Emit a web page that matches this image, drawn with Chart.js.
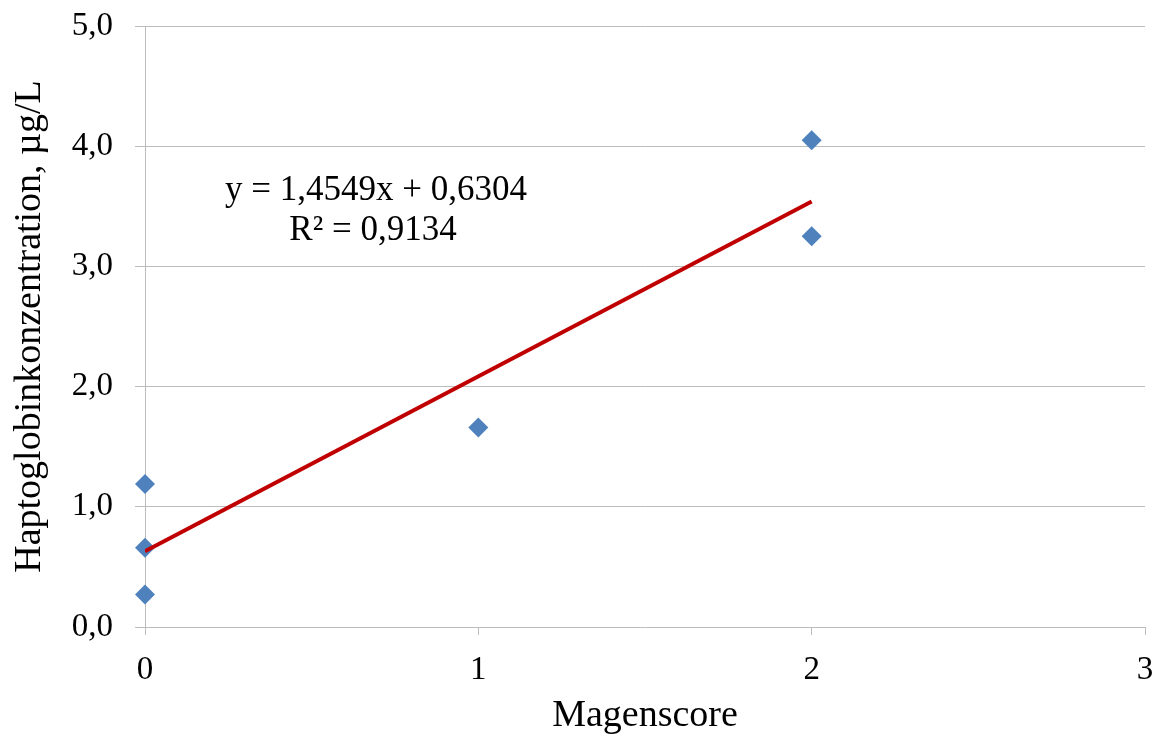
<!DOCTYPE html>
<html>
<head>
<meta charset="utf-8">
<script src="https://cdn.jsdelivr.net/npm/chart.js@4/dist/chart.umd.min.js"></script>
<style>
  html, body { margin: 0; padding: 0; background: #ffffff; }
  #wrap { width: 1158px; height: 736px; position: relative; }
</style>
</head>
<body>
<div id="wrap"><canvas id="c" width="1158" height="736"></canvas></div>
<script>
// Measured points: gastric score vs. haptoglobin concentration
const magenscore = [0, 0, 0, 1, 2, 2];
const haptoglobin = [1.19, 0.66, 0.27, 1.66, 4.05, 3.25];

// Linear regression line as stated in the equation label
const slope = 1.4549;
const intercept = 0.6304;
const rSquared = 0.9134;
const trendX = [0, 2];

const xTicks = [0, 1, 2, 3];
const yTicks = [0, 1, 2, 3, 4, 5];

const fmt = (v, d) => v.toFixed(d).replace('.', ',');

const scatterPoints = magenscore.map((x, i) => ({ x: x, y: haptoglobin[i] }));
const trendPoints = trendX.map(x => ({ x: x, y: slope * x + intercept }));

const serif = "'Liberation Serif', 'Times New Roman', serif";
const gridColor = '#bcbcbc';

// Fixed axis band sizes so the plot area sits at a stable place
const Y_AXIS_WIDTH = 145;
const X_AXIS_HEIGHT = 109;

const equationLabel = {
  id: 'equationLabel',
  afterDatasetsDraw(chart) {
    const ctx = chart.ctx;
    ctx.save();
    ctx.fillStyle = '#000000';
    ctx.font = '35px ' + serif;
    ctx.textAlign = 'center';
    ctx.textBaseline = 'alphabetic';
    ctx.fillText('y = ' + fmt(slope, 4) + 'x + ' + fmt(intercept, 4), 376, 200);
    ctx.fillText('R\u00B2 = ' + fmt(rSquared, 4), 373, 240);
    ctx.restore();
  }
};

new Chart(document.getElementById('c'), {
  type: 'scatter',
  data: {
    datasets: [
      {
        label: 'Haptoglobin',
        data: scatterPoints,
        pointStyle: 'rectRot',
        pointRadius: 10,
        pointHoverRadius: 10,
        backgroundColor: '#4F81BD',
        borderColor: '#4F81BD',
        borderWidth: 0,
        clip: false,
        order: 2
      },
      {
        type: 'line',
        label: 'Linear',
        data: trendPoints,
        borderColor: '#C00000',
        borderWidth: 4,
        pointRadius: 0,
        fill: false,
        order: 1
      }
    ]
  },
  plugins: [equationLabel],
  options: {
    responsive: false,
    animation: false,
    devicePixelRatio: 1,
    layout: { padding: { top: 26, right: 13, left: 0, bottom: 0 } },
    plugins: {
      legend: { display: false },
      tooltip: { enabled: false }
    },
    scales: {
      x: {
        type: 'linear',
        min: 0,
        max: 3,
        afterBuildTicks: axis => { axis.ticks = xTicks.map(v => ({ value: v })); },
        afterFit: axis => {
          axis.height = X_AXIS_HEIGHT;
          axis.paddingLeft = 0;
          axis.paddingRight = 0;
        },
        ticks: {
          color: '#000000',
          font: { family: serif, size: 33 },
          padding: 16,
          callback: v => String(v)
        },
        grid: {
          display: true,
          drawOnChartArea: false,
          drawTicks: true,
          tickLength: 8,
          color: gridColor,
          lineWidth: 1
        },
        border: { display: false },
        title: {
          display: true,
          text: 'Magenscore',
          color: '#000000',
          font: { family: serif, size: 38, lineHeight: 1.05 },
          padding: { top: 0, bottom: 0 }
        }
      },
      y: {
        type: 'linear',
        min: 0,
        max: 5,
        afterBuildTicks: axis => { axis.ticks = yTicks.map(v => ({ value: v })); },
        afterFit: axis => {
          axis.width = Y_AXIS_WIDTH;
          axis.paddingTop = 0;
          axis.paddingBottom = 0;
        },
        ticks: {
          color: '#000000',
          font: { family: serif, size: 33 },
          padding: 22,
          callback: v => fmt(v, 1)
        },
        grid: {
          display: true,
          drawTicks: true,
          tickLength: 10,
          color: gridColor,
          lineWidth: 1
        },
        border: { display: true, color: gridColor, width: 1 },
        title: {
          display: true,
          text: 'Haptoglobinkonzentration, \u00B5g/L',
          color: '#000000',
          font: { family: serif, size: 38 },
          padding: { top: 7, bottom: 0 }
        }
      }
    }
  }
});
</script>
</body>
</html>
